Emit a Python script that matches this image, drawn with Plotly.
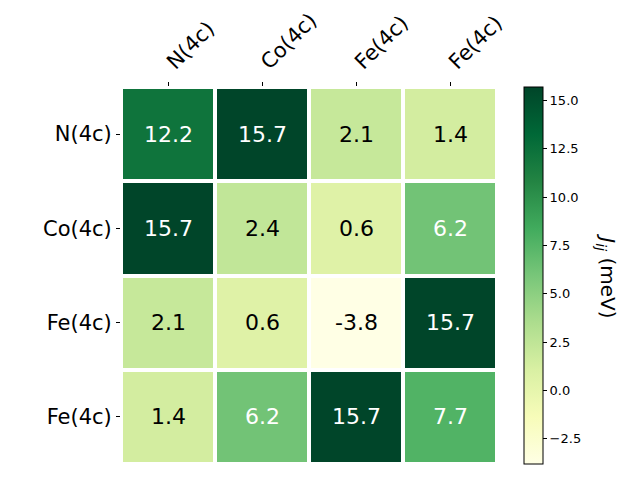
import plotly.graph_objects as go

labels = ["N(4c)", "Co(4c)", "Fe(4c)", "Fe(4c)"]
values = [
    [12.2, 15.7, 2.1, 1.4],
    [15.7, 2.4, 0.6, 6.2],
    [2.1, 0.6, -3.8, 15.7],
    [1.4, 6.2, 15.7, 7.7],
]
cbar_ticks = [-2.5, 0.0, 2.5, 5.0, 7.5, 10.0, 12.5, 15.0]

zmin = min(min(r) for r in values)
zmax = max(max(r) for r in values)
idx = list(range(len(labels)))

fig = go.Figure(go.Heatmap(
    z=values, x=idx, y=idx,
    colorscale="YlGn", zmin=zmin, zmax=zmax,
    xgap=4, ygap=4,
    colorbar=dict(
        x=1.0718, xanchor="left", y=0.5, yanchor="middle",
        len=1.0, lenmode="fraction", thickness=19, thicknessmode="pixels",
        xpad=0, ypad=0,
        outlinecolor="black", outlinewidth=1,
        tickvals=cbar_ticks, ticktext=[f"{t:.1f}".replace("-", "\u2212") for t in cbar_ticks],
        ticks="outside", ticklen=4, tickcolor="black",
        tickfont=dict(size=13, color="black", family="DejaVu Sans"),
    ),
    hoverinfo="skip",
))

for i, row in enumerate(values):
    for j, v in enumerate(row):
        fig.add_annotation(
            x=j, y=i, text=f"{v:.1f}", showarrow=False,
            font=dict(size=22, family="DejaVu Sans",
                      color="white" if v > 5 else "black"),
        )

fig.add_annotation(
    xref="paper", yref="paper", x=1.293, y=0.5, xanchor="center", yanchor="middle",
    text="<i>J</i><sub><i>ij</i></sub> (meV)", showarrow=False,
    textangle=90, font=dict(size=20, family="DejaVu Sans", color="black"),
)

fig.update_xaxes(
    side="top", tickvals=idx, ticktext=labels, tickangle=-45,
    ticks="outside", ticklen=4, tickcolor="black", automargin=False,
    tickfont=dict(size=21, family="DejaVu Sans", color="black"),
    showgrid=False, zeroline=False, range=[-0.5, 3.5],
)
fig.update_yaxes(
    tickvals=idx, ticktext=labels, autorange=False, range=[3.5, -0.5],
    ticks="outside", ticklen=4, tickcolor="black", automargin=False,
    tickfont=dict(size=21, family="DejaVu Sans", color="black"),
    showgrid=False, zeroline=False,
)
fig.update_layout(
    width=640, height=480,
    margin=dict(l=113, r=151, t=79, b=24),
    plot_bgcolor="white", paper_bgcolor="white",
    font=dict(family="DejaVu Sans"),
)
fig.write_html("out.html")
